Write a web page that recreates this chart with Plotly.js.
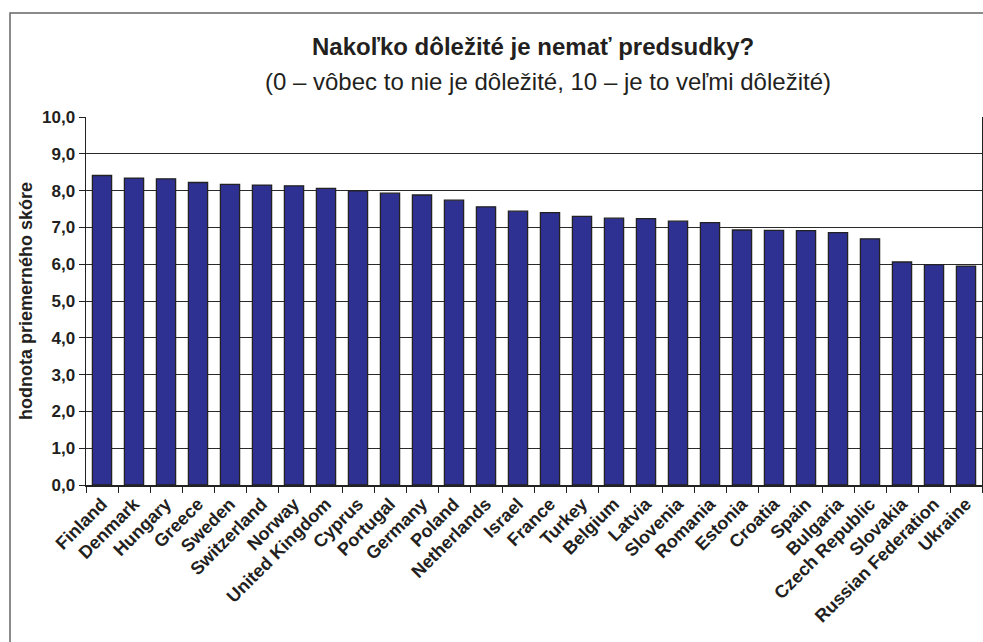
<!DOCTYPE html>
<html>
<head>
<meta charset="utf-8">
<script src="https://cdn.plot.ly/plotly-3.0.1.min.js"></script>
<style>
html,body{margin:0;padding:0;background:#fff;}
#chart{width:983px;height:642px;}
</style>
</head>
<body>
<div id="chart"></div>
<script>
const countries = ["Finland","Denmark","Hungary","Greece","Sweden","Switzerland","Norway","United Kingdom","Cyprus","Portugal","Germany","Poland","Netherlands","Israel","France","Turkey","Belgium","Latvia","Slovenia","Romania","Estonia","Croatia","Spain","Bulgaria","Czech Republic","Slovakia","Russian Federation","Ukraine"];
const scores = [8.41,8.34,8.32,8.22,8.17,8.15,8.13,8.06,7.99,7.93,7.88,7.74,7.56,7.44,7.40,7.30,7.25,7.24,7.17,7.13,6.93,6.92,6.91,6.86,6.69,6.06,5.99,5.95];
const yTicks = [0,1,2,3,4,5,6,7,8,9,10];

const titleText = "Nakoľko dôležité je nemať predsudky?";
const subtitleText = "(0 – vôbec to nie je dôležité, 10 – je to veľmi dôležité)";
const yTitle = "hodnota priemerného skóre";

const FONT = "Liberation Sans, Arial, sans-serif";
const ink = "#231f20";

const trace = {
  type: "bar",
  x: countries,
  y: scores,
  marker: {color: "#2e3192", line: {color: "#222222", width: 1.3}},
  hoverinfo: "x+y"
};

const L = 86, R = 1, T = 117, B = 157, W = 983, H = 642;
const pw = W - L - R, ph = H - T - B;
const px = v => (v - L) / pw;
const py = v => (H - B - v) / ph;

const layout = {
  width: W, height: H,
  margin: {l: L, r: R, t: T, b: B, pad: 0},
  paper_bgcolor: "#ffffff",
  plot_bgcolor: "#ffffff",
  font: {family: FONT, color: ink},
  separators: ", ",
  bargap: 0.4,
  showlegend: false,
  xaxis: {
    type: "category",
    tickangle: -45,
    tickfont: {family: FONT, size: 18, color: ink, weight: "bold"},
    ticks: "outside",
    tickson: "boundaries",
    ticklen: 6,
    tickcolor: "#222",
    showline: true,
    linecolor: "#222",
    linewidth: 1.5,
    showgrid: false,
    zeroline: false,
    automargin: false
  },
  yaxis: {
    range: [0, 10],
    tickvals: yTicks,
    tickformat: ".1f",
    tickfont: {family: FONT, size: 17, color: ink, weight: "bold"},
    ticks: "outside",
    ticklen: 6,
    tickcolor: "#222",
    showline: true,
    mirror: true,
    linecolor: "#222",
    linewidth: 1.5,
    showgrid: true,
    gridcolor: "#2a2a2a",
    gridwidth: 1,
    zeroline: false,
    automargin: false,
    title: {text: yTitle, font: {family: FONT, size: 18, color: ink, weight: "bold"}, standoff: 4}
  },
  annotations: [
    {text: titleText, xref: "paper", yref: "paper", x: px(533), y: py(47), xanchor: "center", yanchor: "middle",
     showarrow: false, font: {family: FONT, size: 24, color: ink, weight: "bold"}},
    {text: subtitleText, xref: "paper", yref: "paper", x: px(548), y: py(81), xanchor: "center", yanchor: "middle",
     showarrow: false, font: {family: FONT, size: 24, color: ink}}
  ],
  shapes: [
    {type: "rect", xref: "paper", yref: "paper", x0: px(10), x1: px(1010), y0: py(700), y1: py(13),
     line: {color: "#666", width: 1.5}, fillcolor: "rgba(0,0,0,0)", layer: "below"}
  ]
};

Plotly.newPlot("chart", [trace], layout, {displayModeBar: false, staticPlot: true});
</script>
</body>
</html>
